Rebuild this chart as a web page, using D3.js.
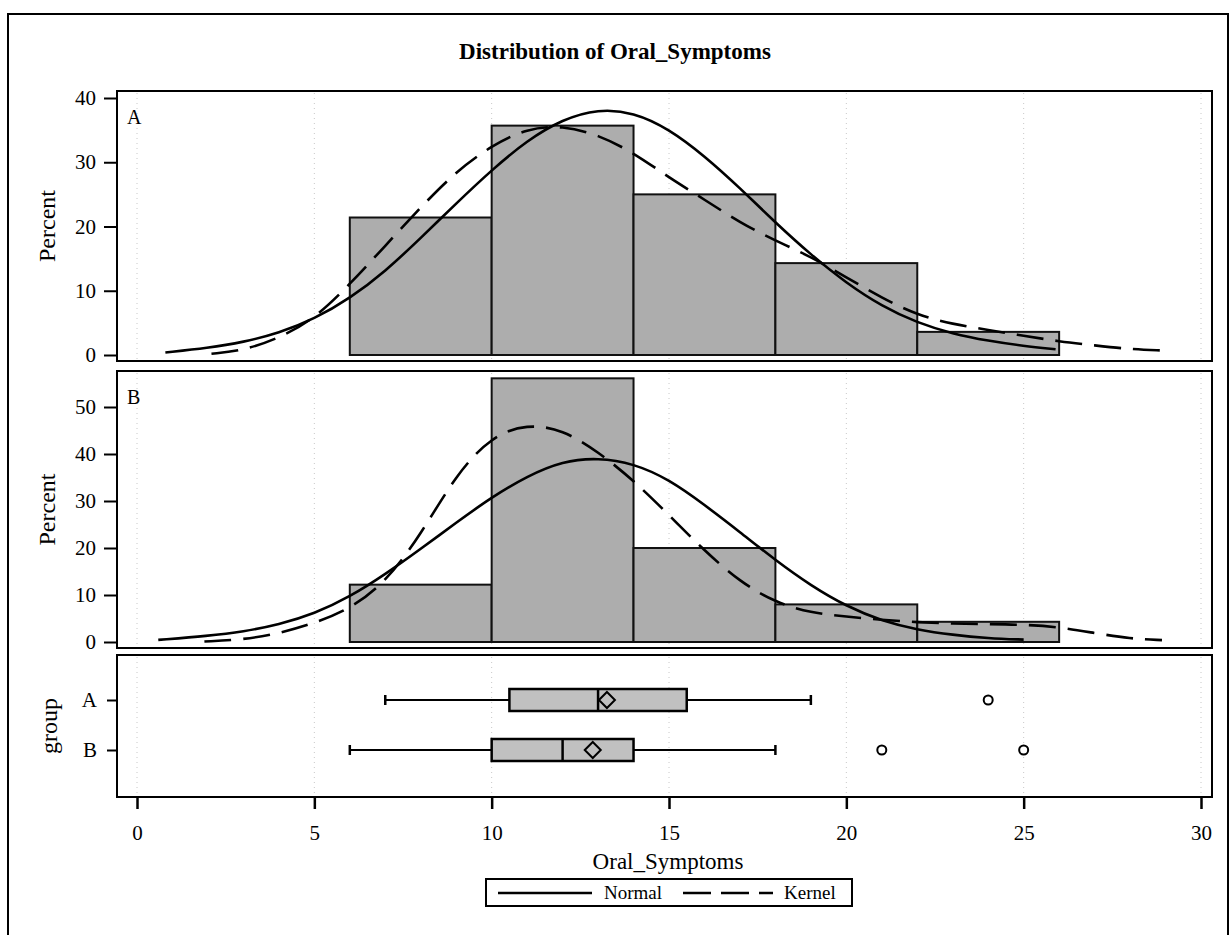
<!DOCTYPE html>
<html>
<head>
<meta charset="utf-8">
<script src="https://cdn.jsdelivr.net/npm/d3@7"></script>
<style>
  body { margin: 0; background: #fff; }
  text { font-family: "Liberation Serif", "Times New Roman", serif; fill: #000; }
</style>
</head>
<body>
<div id="my_dataviz"></div>
<script>

// histogram bins (Oral_Symptoms) and percents per group
var binEdges = [6, 10, 14, 18, 22, 26];
var pctA = [21.4, 35.7, 25.0, 14.3, 3.6];
var pctB = [12.2, 56.1, 20.0, 8.0, 4.3];

// fitted curves: [Oral_Symptoms, Percent]
var normalA = [[0.8,0.4],[2,1.1],[3,2.0],[4,3.4],[5,5.6],[6,8.8],[7,13.0],[8,18.2],[9,23.6],[10,28.8],[11,33.4],[12,36.7],[13,38.3],[14,37.8],[15,35.2],[16,31.0],[17,26.0],[18,20.6],[19,15.6],[20,11.2],[21,7.6],[22,5.0],[23,3.3],[24,2.2],[25,1.4],[25.9,0.9]];
var kernelA = [[2.1,0.2],[3,0.7],[4,2.6],[5,5.6],[6,11.0],[7,17.0],[8,23.0],[9,28.6],[10,32.6],[11,35.3],[12,35.7],[13,34.3],[14,31.5],[15,27.6],[16,24.2],[17,20.6],[18,17.8],[19,15.3],[20,12.1],[21,8.9],[22,6.2],[23,4.8],[24,3.9],[25,3.0],[26,2.1],[27,1.5],[28,0.9],[28.9,0.7]];
var normalB = [[0.6,0.45],[2,1.3],[3,2.2],[4,3.7],[5,6.0],[6,9.6],[7,14.4],[8,19.8],[9,25.4],[10,30.8],[11,35.3],[12,38.5],[13,39.2],[14,38.0],[15,34.6],[16,29.2],[17,23.4],[18,17.4],[19,12.0],[20,7.6],[21,4.5],[22,2.6],[23,1.5],[24,0.8],[25,0.5]];
var kernelB = [[1.9,0.1],[3,0.5],[4,1.8],[5,4.0],[6,7.0],[7,12.6],[8,22.8],[9,35.7],[10,43.8],[11,46.4],[12,45.2],[13,40.5],[14,34.4],[15,27.0],[16,19.4],[17,12.8],[18,8.4],[19,6.2],[20,5.4],[21,4.7],[22,4.2],[23,3.9],[24,3.8],[25,3.7],[26,3.2],[27,1.9],[28,0.7],[28.9,0.4]];

// box plot summary per group
var boxGroups = ["A", "B"];
var boxMin = [7, 6];
var boxQ1 = [10.5, 10];
var boxMedian = [13, 12];
var boxQ3 = [15.5, 14];
var boxMax = [19, 18];
var boxMean = [13.25, 12.85];
var outlierGroup = ["A", "B", "B"];
var outlierValue = [24, 21, 25];

// tick labels
var xTicks = [0, 5, 10, 15, 20, 25, 30];
var yTicksA = [0, 10, 20, 30, 40];
var yTicksB = [0, 10, 20, 30, 40, 50];

var width = 1231, height = 935;
var left = 117, right = 1212;
var panelA = {top: 91, bottom: 361};
var panelB = {top: 371, bottom: 648};
var panelBox = {top: 655, bottom: 797};

var svg = d3.select("#my_dataviz")
    .append("svg")
        .attr("width", width)
        .attr("height", height);

// outer frame
svg.append("rect")
    .attr("x", 8).attr("y", 14)
    .attr("width", 1220).attr("height", 940)
    .attr("fill", "none").attr("stroke", "#000").attr("stroke-width", 2);

svg.append("text")
    .attr("x", 615).attr("y", 59)
    .attr("text-anchor", "middle")
    .style("font-size", "23px").style("font-weight", "bold")
    .text("Distribution of Oral_Symptoms");

// X scale shared by all three panels
var x = d3.scaleLinear()
    .domain([0, 30])
    .range([137, 1201]);

var yA = d3.scaleLinear().domain([0, 40]).range([355, 98]);
var yB = d3.scaleLinear().domain([0, 50]).range([642, 407]);
var yBox = d3.scalePoint().domain(boxGroups).range([700, 750]);

function drawGrid(p) {
    svg.append("g")
        .selectAll("line")
        .data(xTicks)
        .enter()
        .append("line")
        .attr("x1", function(d) { return x(d); })
        .attr("x2", function(d) { return x(d); })
        .attr("y1", p.top + 2)
        .attr("y2", p.bottom - 2)
        .attr("stroke", "#c8c8c8")
        .attr("stroke-width", 1)
        .attr("stroke-dasharray", "1,4");
}

function drawHist(p, y, pct, normal, kernel, letter, ticks, id) {
    drawGrid(p);

    svg.append("clipPath").attr("id", id)
        .append("rect")
        .attr("x", left).attr("y", p.top)
        .attr("width", right - left).attr("height", p.bottom - p.top);

    svg.append("g")
        .selectAll("rect")
        .data(pct)
        .enter()
        .append("rect")
        .attr("x", function(d, i) { return x(binEdges[i]); })
        .attr("y", function(d) { return y(d); })
        .attr("width", function(d, i) { return x(binEdges[i + 1]) - x(binEdges[i]); })
        .attr("height", function(d) { return y(0) - y(d); })
        .attr("fill", "#adadad")
        .attr("stroke", "#111")
        .attr("stroke-width", 2);

    var line = d3.line()
        .x(function(d) { return x(d[0]); })
        .y(function(d) { return y(d[1]); })
        .curve(d3.curveBasis);

    var g = svg.append("g").attr("clip-path", "url(#" + id + ")");
    g.append("path")
        .attr("d", line(normal))
        .attr("fill", "none").attr("stroke", "#000").attr("stroke-width", 2.6);
    g.append("path")
        .attr("d", line(kernel))
        .attr("fill", "none").attr("stroke", "#000").attr("stroke-width", 2.6)
        .attr("stroke-dasharray", "27,12");

    // frame
    svg.append("rect")
        .attr("x", left).attr("y", p.top)
        .attr("width", right - left).attr("height", p.bottom - p.top)
        .attr("fill", "none").attr("stroke", "#000").attr("stroke-width", 2);

    // Y axis
    var ax = svg.append("g")
        .attr("transform", "translate(" + left + ",0)")
        .call(d3.axisLeft(y).tickValues(ticks).tickSize(13).tickPadding(8));
    ax.select(".domain").remove();
    ax.selectAll("line").attr("stroke-width", 2);
    ax.selectAll("text").style("font-size", "21px").style("font-family", "Liberation Serif, serif");

    svg.append("text")
        .attr("x", 127).attr("y", p.top + 33)
        .style("font-size", "20px")
        .text(letter);

    svg.append("text")
        .attr("transform", "translate(55," + ((p.top + p.bottom) / 2) + ") rotate(-90)")
        .attr("text-anchor", "middle")
        .style("font-size", "24px")
        .text("Percent");
}

drawHist(panelA, yA, pctA, normalA, kernelA, "A", yTicksA, "clipA");
drawHist(panelB, yB, pctB, normalB, kernelB, "B", yTicksB, "clipB");

// box plot panel
drawGrid(panelBox);

var boxH = 22;
boxGroups.forEach(function(grp, i) {
    var cy = yBox(grp);
    var g = svg.append("g");
    // whiskers
    g.append("line")
        .attr("x1", x(boxMin[i])).attr("x2", x(boxQ1[i]))
        .attr("y1", cy).attr("y2", cy)
        .attr("stroke", "#000").attr("stroke-width", 2.2);
    g.append("line")
        .attr("x1", x(boxQ3[i])).attr("x2", x(boxMax[i]))
        .attr("y1", cy).attr("y2", cy)
        .attr("stroke", "#000").attr("stroke-width", 2.2);
    [boxMin[i], boxMax[i]].forEach(function(v) {
        g.append("line")
            .attr("x1", x(v)).attr("x2", x(v))
            .attr("y1", cy - 5).attr("y2", cy + 5)
            .attr("stroke", "#000").attr("stroke-width", 2.5);
    });
    g.append("rect")
        .attr("x", x(boxQ1[i])).attr("y", cy - boxH / 2)
        .attr("width", x(boxQ3[i]) - x(boxQ1[i])).attr("height", boxH)
        .attr("fill", "#c0c0c0").attr("stroke", "#000").attr("stroke-width", 2.5);
    g.append("line")
        .attr("x1", x(boxMedian[i])).attr("x2", x(boxMedian[i]))
        .attr("y1", cy - boxH / 2).attr("y2", cy + boxH / 2)
        .attr("stroke", "#000").attr("stroke-width", 2.5);
    // mean diamond
    var mx = x(boxMean[i]), d = 8;
    g.append("path")
        .attr("d", "M" + (mx - d) + "," + cy + "L" + mx + "," + (cy - d) + "L" + (mx + d) + "," + cy + "L" + mx + "," + (cy + d) + "Z")
        .attr("fill", "#c0c0c0").attr("stroke", "#000").attr("stroke-width", 2);
});

svg.append("g")
    .selectAll("circle")
    .data(outlierValue)
    .enter()
    .append("circle")
    .attr("cx", function(d) { return x(d); })
    .attr("cy", function(d, i) { return yBox(outlierGroup[i]); })
    .attr("r", 4.5)
    .attr("fill", "#fff").attr("stroke", "#000").attr("stroke-width", 2);

svg.append("rect")
    .attr("x", left).attr("y", panelBox.top)
    .attr("width", right - left).attr("height", panelBox.bottom - panelBox.top)
    .attr("fill", "none").attr("stroke", "#000").attr("stroke-width", 2);

var gy = svg.append("g")
    .attr("transform", "translate(" + left + ",0)")
    .call(d3.axisLeft(yBox).tickSize(10).tickPadding(10));
gy.select(".domain").remove();
gy.selectAll("line").attr("stroke-width", 2);
gy.selectAll("text").style("font-size", "21px").style("font-family", "Liberation Serif, serif");

svg.append("text")
    .attr("transform", "translate(57," + ((panelBox.top + panelBox.bottom) / 2) + ") rotate(-90)")
    .attr("text-anchor", "middle")
    .style("font-size", "24px")
    .text("group");

// X axis
var gx = svg.append("g")
    .attr("transform", "translate(0," + panelBox.bottom + ")")
    .call(d3.axisBottom(x).tickValues(xTicks).tickSize(12).tickPadding(16));
gx.select(".domain").remove();
gx.selectAll("line").attr("stroke-width", 2.5);
gx.selectAll("text").style("font-size", "21px").style("font-family", "Liberation Serif, serif");

svg.append("text")
    .attr("x", 668).attr("y", 869)
    .attr("text-anchor", "middle")
    .style("font-size", "23px")
    .text("Oral_Symptoms");

// legend
var leg = svg.append("g");
leg.append("rect")
    .attr("x", 486).attr("y", 879)
    .attr("width", 366).attr("height", 27)
    .attr("fill", "#fff").attr("stroke", "#000").attr("stroke-width", 2);
leg.append("line")
    .attr("x1", 498).attr("x2", 592).attr("y1", 893).attr("y2", 893)
    .attr("stroke", "#000").attr("stroke-width", 2.6);
leg.append("text")
    .attr("x", 604).attr("y", 899)
    .style("font-size", "19px")
    .text("Normal");
leg.append("line")
    .attr("x1", 683).attr("x2", 773).attr("y1", 893).attr("y2", 893)
    .attr("stroke", "#000").attr("stroke-width", 2.6)
    .attr("stroke-dasharray", "28,10");
leg.append("text")
    .attr("x", 784).attr("y", 899)
    .style("font-size", "19px")
    .text("Kernel");

</script>
</body>
</html>
